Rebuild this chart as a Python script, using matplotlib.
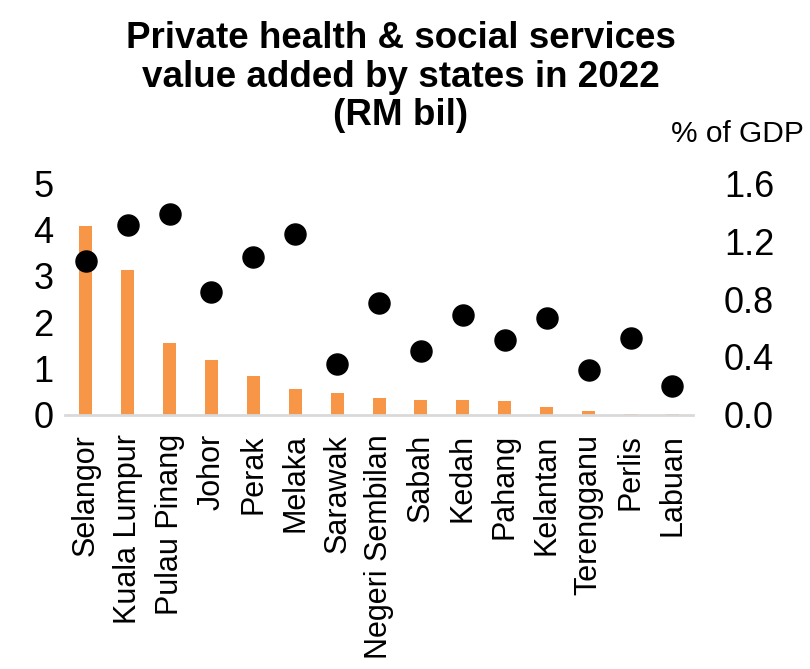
import matplotlib
matplotlib.use('Agg')
import matplotlib.pyplot as plt

plt.rcParams['font.family'] = ['Liberation Sans', 'DejaVu Sans']

# Data
states = ['Selangor', 'Kuala Lumpur', 'Pulau Pinang', 'Johor', 'Perak', 'Melaka',
          'Sarawak', 'Negeri Sembilan', 'Sabah', 'Kedah', 'Pahang', 'Kelantan',
          'Terengganu', 'Perlis', 'Labuan']
value_added = [4.07, 3.12, 1.54, 1.19, 0.84, 0.55, 0.47, 0.37, 0.33, 0.32, 0.30,
               0.16, 0.09, 0.02, 0.01]
pct_gdp = [1.06, 1.31, 1.39, 0.85, 1.09, 1.25, 0.35, 0.77, 0.44, 0.69, 0.52, 0.67,
           0.31, 0.53, 0.20]

fig = plt.figure(figsize=(8.1, 6.69), dpi=100)
ax = fig.add_axes([0.08, 0.38, 0.776, 0.346])
x = list(range(len(states)))

ax.bar(x, value_added, width=0.31, color='#F79646', zorder=2)
ax.set_ylim(0, 5)
ax.set_xlim(-0.5, len(states) - 0.5)
ax.set_yticks([0, 1, 2, 3, 4, 5])
ax.tick_params(axis='y', length=0, labelsize=26, pad=8)
ax.tick_params(axis='x', length=0, labelsize=22, pad=14)
ax.set_xticks(x)
ax.set_xticklabels(states, rotation=90)
for s in ['top', 'right', 'left']:
    ax.spines[s].set_visible(False)
ax.spines['bottom'].set_color('#D9D9D9')
ax.spines['bottom'].set_linewidth(2)

ax2 = ax.twinx()
ax2.scatter(x, pct_gdp, s=230, color='black', zorder=3)
ax2.set_ylim(0, 1.6)
ax2.set_yticks([0.0, 0.4, 0.8, 1.2, 1.6])
ax2.set_yticklabels(['0.0', '0.4', '0.8', '1.2', '1.6'])
ax2.tick_params(axis='y', length=0, labelsize=26, pad=22)
for s in ['top', 'right', 'left', 'bottom']:
    ax2.spines[s].set_visible(False)

fig.text(0.495, 0.968, 'Private health & social services\nvalue added by states in 2022\n(RM bil)',
         ha='center', va='top', fontsize=26.5, fontweight='bold', linespacing=1.12)
fig.text(0.993, 0.80, '% of GDP', ha='right', va='center', fontsize=21.5)

fig.savefig('out.png', dpi=100)
plt.close()
